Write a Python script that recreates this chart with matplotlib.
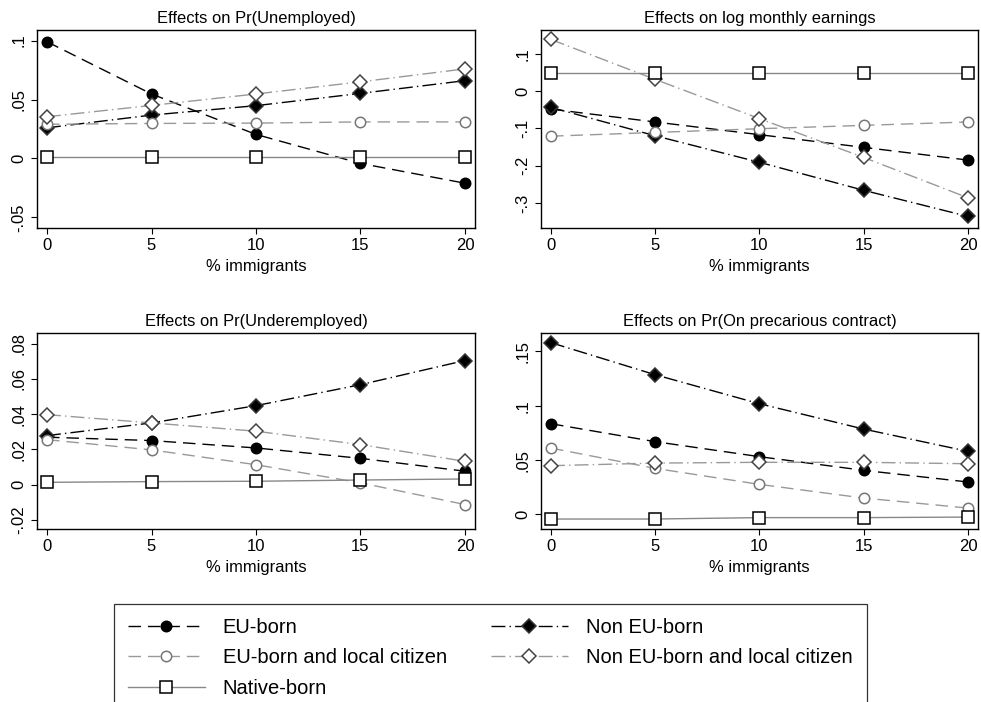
import matplotlib.pyplot as plt
from matplotlib.ticker import FuncFormatter

plt.rcParams['font.family'] = ['Liberation Sans', 'DejaVu Sans']

# Data
immigrants = [0, 5, 10, 15, 20]

unemp_eu = [0.099, 0.0547, 0.0204, -0.0042, -0.021]
unemp_noneu = [0.026, 0.0368, 0.0448, 0.0552, 0.066]
unemp_eu_cit = [0.029, 0.0297, 0.030, 0.031, 0.031]
unemp_noneu_cit = [0.0354, 0.045, 0.0547, 0.065, 0.076]
unemp_native = [0.001, 0.001, 0.001, 0.001, 0.001]

earn_eu = [-0.0485, -0.083, -0.117, -0.151, -0.185]
earn_noneu = [-0.044, -0.12, -0.191, -0.266, -0.336]
earn_eu_cit = [-0.121, -0.111, -0.101, -0.092, -0.083]
earn_noneu_cit = [0.138, 0.031, -0.074, -0.178, -0.286]
earn_native = [0.047, 0.047, 0.047, 0.047, 0.047]

under_eu = [0.0269, 0.025, 0.0208, 0.0149, 0.0076]
under_noneu = [0.0278, 0.035, 0.0448, 0.0567, 0.0704]
under_eu_cit = [0.0255, 0.0197, 0.0113, 0.001, -0.0113]
under_noneu_cit = [0.0397, 0.035, 0.0303, 0.0227, 0.0132]
under_native = [0.0013, 0.0017, 0.0019, 0.0026, 0.0032]

prec_eu = [0.0834, 0.0669, 0.0531, 0.0405, 0.0298]
prec_noneu = [0.158, 0.1285, 0.1018, 0.0785, 0.058]
prec_eu_cit = [0.061, 0.0423, 0.0276, 0.015, 0.0058]
prec_noneu_cit = [0.0448, 0.0472, 0.0479, 0.0479, 0.0466]
prec_native = [-0.0043, -0.0043, -0.003, -0.003, -0.0025]

panels = [
    ('Effects on Pr(Unemployed)', [unemp_eu, unemp_noneu, unemp_eu_cit, unemp_noneu_cit, unemp_native],
     [0.1, 0.05, 0, -0.05], (-0.059, 0.109)),
    ('Effects on log monthly earnings', [earn_eu, earn_noneu, earn_eu_cit, earn_noneu_cit, earn_native],
     [0.1, 0, -0.1, -0.2, -0.3], (-0.367, 0.1635)),
    ('Effects on Pr(Underemployed)', [under_eu, under_noneu, under_eu_cit, under_noneu_cit, under_native],
     [0.08, 0.06, 0.04, 0.02, 0, -0.02], (-0.0252, 0.086)),
    ('Effects on Pr(On precarious contract)', [prec_eu, prec_noneu, prec_eu_cit, prec_noneu_cit, prec_native],
     [0.15, 0.1, 0.05, 0], (-0.0135, 0.1669)),
]

labels = ['EU-born', 'Non EU-born', 'EU-born and local citizen',
          'Non EU-born and local citizen', 'Native-born']

styles = [
    dict(color='black', dashes=(9, 5), marker='o', ms=7.5, mfc='black', mec='black'),
    dict(color='black', dashes=(10, 3, 1, 3), marker='D', ms=7, mfc='black', mec='#333333'),
    dict(color='#999999', dashes=(9, 5), marker='o', ms=7.5, mfc='white', mec='#777777'),
    dict(color='#999999', dashes=(10, 3, 1, 3), marker='D', ms=7, mfc='white', mec='#444444'),
    dict(color='#888888', marker='s', ms=8, mfc='white', mec='black'),
]


def fmt(v, pos):
    s = '%g' % round(v, 4)
    return s.replace('0.', '.')


fig = plt.figure(figsize=(9.81, 7.02), dpi=100)
boxes = [
    [0.0377, 0.6752, 0.4465, 0.2821],
    [0.5515, 0.6752, 0.4454, 0.2821],
    [0.0377, 0.2464, 0.4465, 0.2792],
    [0.5515, 0.2464, 0.4454, 0.2792],
]

handles = []
for box, (title, series, yticks, ylim) in zip(boxes, panels):
    ax = fig.add_axes(box)
    handles = []
    for y, st, lab in zip(series, styles, labels):
        h, = ax.plot(immigrants, y, lw=1.0, mew=1.1, label=lab, **st)
        handles.append(h)
    ax.set_xlim(-0.48, 20.48)
    ax.set_ylim(*ylim)
    ax.set_xticks(immigrants)
    ax.set_yticks(yticks)
    ax.yaxis.set_major_formatter(FuncFormatter(fmt))
    ax.tick_params(direction='out', length=4, width=0.8, labelsize=12)
    for lab in ax.get_yticklabels():
        lab.set_rotation(90)
        lab.set_va('center')
    ax.set_title(title, fontsize=11.9, pad=5)
    ax.set_xlabel('% immigrants', fontsize=11.9, labelpad=4)
    for sp in ax.spines.values():
        sp.set_linewidth(1.0)

# legend sits at the bottom and runs off the lower edge, as in the original
order = [0, 2, 4, 1, 3]
leg = fig.legend([handles[i] for i in order], [labels[i] for i in order],
                 ncol=2, loc='upper left', bbox_to_anchor=(0.1162, 0.1396),
                 borderaxespad=0, fontsize=14.5, handlelength=3.8,
                 handletextpad=0.9, columnspacing=2.2, labelspacing=0.56,
                 borderpad=0.7, fancybox=False, frameon=True, edgecolor='black')
leg.get_frame().set_linewidth(0.9)

fig.savefig('out.png', dpi=100)
